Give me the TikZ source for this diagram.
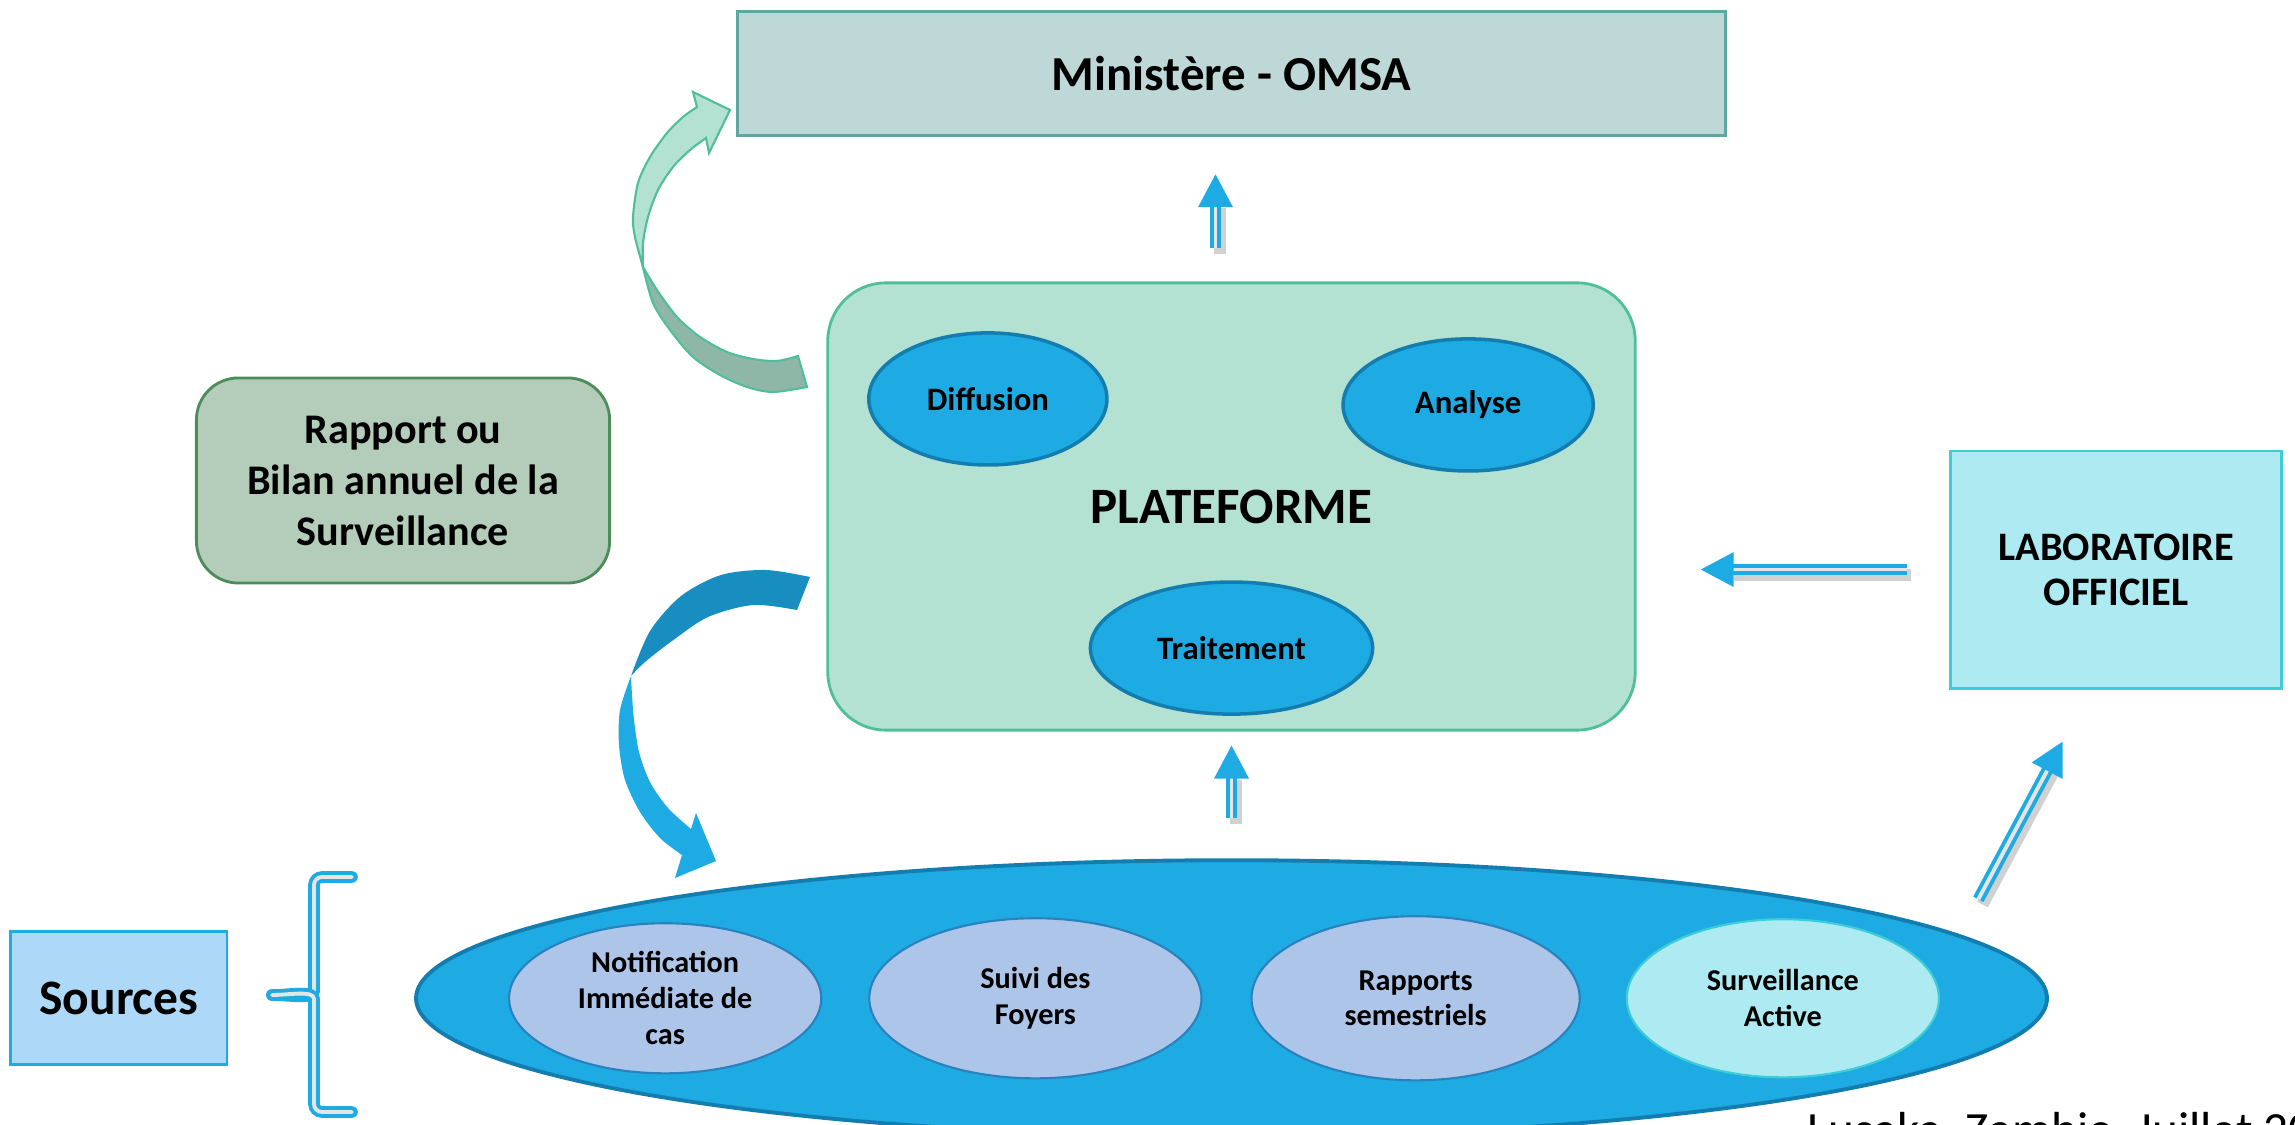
\documentclass[tikz,border=0pt]{standalone}
\usepackage{fontspec}
\setmainfont{Carlito}
\usetikzlibrary{positioning,shapes.geometric,arrows.meta}
\definecolor{minfill}{HTML}{BED8D8}
\definecolor{mindraw}{HTML}{5FA5A0}
\definecolor{platfill}{HTML}{B3E2D2}
\definecolor{platdraw}{HTML}{50BE9B}
\definecolor{grndark}{HTML}{8FB7A8}
\definecolor{blueA}{HTML}{1EABE3}
\definecolor{blueB}{HTML}{178EBF}
\definecolor{blueC}{HTML}{147DAF}
\definecolor{rapfill}{HTML}{B4CCBA}
\definecolor{rapdraw}{HTML}{4B8C5A}
\definecolor{labfill}{HTML}{AEEAF2}
\definecolor{labdraw}{HTML}{3CCDD7}
\definecolor{srcfill}{HTML}{ADD8F7}
\definecolor{pillfill}{HTML}{AEC5EA}
\definecolor{pilldraw}{HTML}{2882BE}
\tikzstyle{box}=[draw, rectangle, align=center, inner sep=0pt, line width=0.8pt]
\tikzstyle{blob}=[draw=blueC, fill=blueA, ellipse, line width=1pt, inner sep=0pt, align=center, minimum height=1.32cm, font=\bfseries\fontsize{9.3}{11}\selectfont]
\tikzstyle{pill}=[draw=pilldraw, fill=pillfill, ellipse, line width=0.6pt, inner sep=0pt, align=center, font=\bfseries\fontsize{8.6}{10.2}\selectfont]
\tikzstyle{dblline}=[draw=blueA, line width=1.1pt, double=gray!20, double distance=1.1pt]
\tikzstyle{dbl}=[dblline, -{Triangle[width=0.34cm,length=0.33cm,color=blueA,fill=blueA]}]
\tikzstyle{shade}=[draw=black, opacity=0.18, line width=3.4pt]

\begin{document}
\begin{tikzpicture}[x=0.01cm,y=-0.01cm,on grid]
   \useasboundingbox (0,0) rectangle (2295,1125);
   \node[box,rounded corners=0.58cm,draw=platdraw,fill=platfill,minimum width=8.07cm,minimum height=4.47cm,font=\bfseries\fontsize{14.5}{17}\selectfont] (Plat) at (1231.5,506.5) {PLATEFORME};
   \node[blob,minimum width=2.38cm] (Diff) [above left=1.075cm and 2.435cm of Plat] {Diffusion};
   \node[blob,minimum width=2.5cm] (Ana) [above right=1.015cm and 2.365cm of Plat] {Analyse};
   \node[blob,minimum width=2.82cm] (Trait) [below=1.415cm of Plat] {Traitement};
   \node[box,draw=mindraw,fill=minfill,minimum width=9.88cm,minimum height=1.24cm,font=\bfseries\fontsize{13.9}{16}\selectfont] (Min) [above=4.325cm of Plat] {Ministère - OMSA};
   \node[box,rounded corners=0.42cm,draw=rapdraw,fill=rapfill,minimum width=4.13cm,minimum height=2.05cm,font=\bfseries\fontsize{12}{14.5}\selectfont] (Rap) [above left=0.26cm and 8.28cm of Plat] {Rapport ou\\Bilan annuel de la\\Surveillance};
   \node[box,draw=labdraw,fill=labfill,minimum width=3.31cm,minimum height=2.37cm,font=\bfseries\fontsize{11.5}{12.8}\selectfont] (Lab) [below right=0.63cm and 8.84cm of Plat] {LABORATOIRE\\OFFICIEL};
   \node[ellipse,draw=blueC,fill=blueA,line width=1.1pt,minimum width=16.3cm,minimum height=2.76cm] (Base) [below=4.915cm of Plat] {};
   \node[pill,minimum width=3.12cm,minimum height=1.5cm] (Notif) [left=5.66cm of Base] {Notification\\Immédiate de\\cas};
   \node[pill,minimum width=3.32cm,minimum height=1.6cm] (Suivi) [left=1.96cm of Base] {Suivi des\\Foyers};
   \node[pill,minimum width=3.28cm,minimum height=1.64cm] (Semes) [right=1.84cm of Base] {Rapports\\semestriels};
   \node[pill,draw=labdraw,fill=labfill,minimum width=3.12cm,minimum height=1.58cm] (Active) [right=5.51cm of Base] {Surveillance\\Active};
   \node[box,draw=blueA,fill=srcfill,minimum width=2.16cm,minimum height=1.33cm,font=\bfseries\fontsize{14.1}{16}\selectfont] (Src) [left=11.12cm of Base] {Sources};
   \node[anchor=base west,inner sep=0pt,font=\fontsize{14}{16}\selectfont] (Lieu) at (1807,1146) {Lusaka, Zambie, Juillet 20};
   \filldraw[fill=platfill,draw=platdraw,line width=0.6pt] plot[smooth] coordinates {(643,267) (635,237) (633,217) (638,183) (650,157) (667,133) (683,117) (697,107)}
     -- (693,92) -- (730,110) -- (709,153) -- (706,138)
     -- plot[smooth] coordinates {(706,138) (690,150) (673,167) (658,190) (648,217) (643,243) (643,267)} -- cycle;
   \filldraw[fill=grndark,draw=platdraw,line width=0.6pt] plot[smooth] coordinates {(643,267) (653,303) (670,330) (693,357) (720,375) (747,387) (773,392) (807,387)}
     -- (798,356)
     -- plot[smooth] coordinates {(798,356) (777,361) (753,359) (727,352) (700,337) (677,317) (657,290) (643,267)} -- cycle;
   \fill[blueB] plot[smooth] coordinates {(631,676) (650,631) (681,596) (721,575) (766,570) (810,577)}
     -- (797,610)
     -- plot[smooth] coordinates {(797,610) (753,605) (708,617) (672,641) (645,662) (631,676)} -- cycle;
   \fill[blueA] plot[smooth] coordinates {(631,676) (620,710) (619,745) (625,780) (640,812) (660,838) (682,855)}
     -- (675,878) -- (716,861) -- (696,813)
     -- plot[smooth] coordinates {(691,829) (668,808) (650,782) (639,752) (634,720) (632,695) (631,676)} -- cycle;
   \draw[dblline,line cap=round,rounded corners=0.08cm] (352,877) -- (314,877) -- (314,983) to[out=-90,in=0] (272,995);
   \draw[dblline,line cap=round,rounded corners=0.08cm] (352,1112) -- (314,1112) -- (314,1007) to[out=90,in=0] (272,995);
   \draw[shade,shorten <=0.33cm,shorten >=0.66cm,transform canvas={xshift=1.2pt,yshift=-1.5pt}] ([xshift=-0.16cm]Plat.north) -- ([xshift=-0.16cm]Min.south);
   \draw[shade,shorten <=0.4cm,shorten >=0.43cm,transform canvas={xshift=1.2pt,yshift=-1.5pt}] (Base.north) -- (Plat.south);
   \draw[shade,shorten <=0.42cm,shorten >=0.93cm,transform canvas={xshift=1.2pt,yshift=-1.5pt}] (Lab.west) -- (Lab.west -| Plat.east);
   \draw[shade,shorten <=0.4cm,shorten >=0.88cm,transform canvas={xshift=1.2pt,yshift=-1.5pt}] (Base.5) -- (Lab.258);
   \draw[dbl,shorten <=0.33cm,shorten >=0.37cm] ([xshift=-0.16cm]Plat.north) -- ([xshift=-0.16cm]Min.south);
   \draw[dbl,shorten <=0.4cm,shorten >=0.14cm] (Base.north) -- (Plat.south);
   \draw[dbl,shorten <=0.42cm,shorten >=0.64cm] (Lab.west) -- (Lab.west -| Plat.east);
   \draw[dbl,shorten <=0.4cm,shorten >=0.59cm] (Base.5) -- (Lab.258);
\end{tikzpicture}
\end{document}
